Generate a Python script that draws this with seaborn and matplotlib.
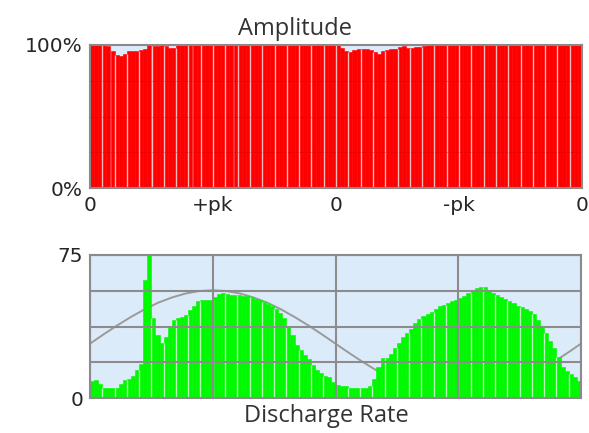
import numpy as np
import pandas as pd
import matplotlib
matplotlib.use("Agg")
import matplotlib.pyplot as plt
import seaborn as sns

# ---------------- data ----------------
phase_labels = ["0", "+pk", "0", "-pk", "0"]
amp_ticks = [0, 100]
amp_tick_labels = ["0%", "100%"]
rate_ticks = [0, 18.75, 37.5, 56.25, 75]
rate_tick_labels = ["0", "", "", "", "75"]

# Amplitude (% of full scale) per phase bin, 120 bins over one cycle
amplitude_pct = [
    100, 100, 100, 100, 99, 96, 93, 92, 93.5, 95.5,
    96, 96, 96.5, 97.5, 100, 99, 99, 100, 99, 98,
    98, 100, 100, 100, 100, 100, 100, 100, 100, 100,
    100, 100, 100, 100, 100, 100, 100, 100, 100, 100,
    100, 100, 100, 100, 100, 100, 100, 100, 100, 100,
    100, 100, 100, 100, 100, 100, 100, 100, 100, 100,
    100, 98, 96, 95, 96.5, 97, 97, 97, 96.5, 95,
    94, 95.5, 96.5, 97, 97, 98.5, 99, 98, 98, 98.5,
    98.5, 99, 100, 100, 100, 100, 100, 100, 100, 100,
    100, 100, 100, 100, 100, 100, 100, 100, 100, 100,
    100, 100, 100, 100, 100, 100, 100, 100, 100, 100,
    100, 100, 100, 100, 100, 100, 100, 100, 100, 100,
]

# Discharge rate per phase bin, 120 bins over one cycle
discharge_rate = [
    9.0, 9.2, 7.5, 5.5, 5.3, 5.3, 5.5, 7.5, 9.2, 9.8,
    11.5, 14.5, 18, 62, 75, 42, 33, 29, 32, 38,
    41, 42, 42.5, 43.5, 46, 48.5, 51, 51.5, 51.5, 51.5,
    53, 54.5, 55, 54.5, 54, 53.8, 53.8, 53.5, 53.5, 53,
    52, 51.5, 50.5, 49.5, 48.5, 46.8, 44.5, 42, 38, 33,
    28, 25, 22.5, 20.3, 17.5, 14.5, 13, 11.8, 11, 8.5,
    7, 6.5, 6.2, 5.5, 5.2, 5, 5, 5.3, 6.5, 10,
    16, 21, 21, 23, 26, 29, 32, 34, 36, 39.5,
    41.5, 43, 44, 45, 46.8, 48, 49, 50, 51, 51.5,
    52.5, 53.5, 55, 56.5, 57.8, 58.2, 58, 56.5, 55, 54,
    53, 52, 51, 50, 48.5, 47.5, 46.8, 45.5, 44, 41,
    38, 34, 30, 26, 21.5, 16.5, 14, 12.5, 11, 9,
]

# Reference AC wave read every 10 degrees (0..360)
reference_wave = [
    28.5, 33.4, 38.1, 42.5, 46.5, 50.0, 52.7, 54.8, 56.1, 56.5,
    56.1, 54.8, 52.7, 50.0, 46.5, 42.5, 38.1, 33.4, 28.5, 23.6,
    18.9, 14.5, 10.5, 7.0, 4.3, 2.2, 0.9, 0.5, 0.9, 2.2,
    4.3, 7.0, 10.5, 14.5, 18.9, 23.6, 28.5,
]

# ---------------- style ----------------
sns.set_theme(style="white")
plt.rcParams["font.family"] = ["DejaVu Sans"]

BG = "#dcebfa"
SPINE = "#8a8a8a"
GRID = "#8c8c8c"
TXT = "#262626"
RED = "#ff0000"
GREEN = "#00f800"
W, H = 589, 433

fig = plt.figure(figsize=(W / 100, H / 100), dpi=100)
fig.patch.set_facecolor("white")
ax1 = fig.add_axes([90 / W, 1 - 188 / H, 492 / W, 143 / H])
ax2 = fig.add_axes([90 / W, 1 - 398 / H, 491 / W, 143 / H])

n = len(amplitude_pct)
bins = np.arange(n)
group = 3
bounds = np.arange(group, n, group)
quarter_pos = np.arange(0, n + 1, n // 4) - 0.5


def draw_bars(ax, vals, color):
    df = pd.DataFrame({"bin": bins, "val": vals})
    sns.barplot(data=df, x="bin", y="val", color=color, saturation=1,
                width=1.0, edgecolor=color, linewidth=0.4, errorbar=None, ax=ax)
    v = np.asarray(vals, dtype=float)
    ax.vlines(bounds - 0.5, 0, np.minimum(v[bounds - 1], v[bounds]),
              colors="white", alpha=0.72, linewidth=1.0, zorder=1.6)


def style_axes(ax):
    ax.set_facecolor(BG)
    for s in ax.spines.values():
        s.set_visible(True)
        s.set_color(SPINE)
        s.set_linewidth(1.5)
    ax.set_xlabel("")
    ax.set_ylabel("")
    ax.tick_params(length=0, labelsize=14.5, colors=TXT)


# ---- top: amplitude ----
draw_bars(ax1, amplitude_pct, RED)
style_axes(ax1)
ax1.set_xlim(-0.5, n - 0.5)
ax1.set_ylim(0, 100)
ax1.set_yticks(amp_ticks)
ax1.set_yticklabels(amp_tick_labels)
ax1.set_xticks(quarter_pos)
ax1.set_xticklabels(phase_labels)
ax1.tick_params(axis="x", pad=6)
ax1.tick_params(axis="y", pad=5)
ax1.set_yticks([25, 50, 75], minor=True)
ax1.grid(False)
ax1.grid(True, which="minor", axis="y", color="#700000", alpha=0.35,
         linestyle=":", linewidth=0.8)
ax1.set_axisbelow(False)
fig.text(295 / W, 1 - 35 / H, "Amplitude", ha="center", va="baseline",
         fontsize=17, color="#333333", family=["Open Sans", "DejaVu Sans"])

# ---- bottom: discharge rate ----
draw_bars(ax2, discharge_rate, GREEN)
wave_x = np.linspace(-0.5, n - 0.5, len(reference_wave))
sns.lineplot(x=wave_x, y=reference_wave, ax=ax2, color="#9a9a9a",
             linewidth=1.4, zorder=0.8, sort=False)
style_axes(ax2)
ax2.set_xlim(-0.5, n - 0.5)
ax2.set_ylim(0, 75)
ax2.set_yticks(rate_ticks)
ax2.set_yticklabels(rate_tick_labels)
ax2.set_xticks(quarter_pos)
ax2.set_xticklabels([])
ax2.tick_params(axis="y", pad=5)
ax2.grid(True, color=GRID, linewidth=1.5)
ax2.set_axisbelow(False)
fig.text(326 / W, 1 - 422 / H, "Discharge Rate", ha="center", va="baseline",
         fontsize=17, color="#333333", family=["Open Sans", "DejaVu Sans"])

fig.savefig("out.png", dpi=100)
